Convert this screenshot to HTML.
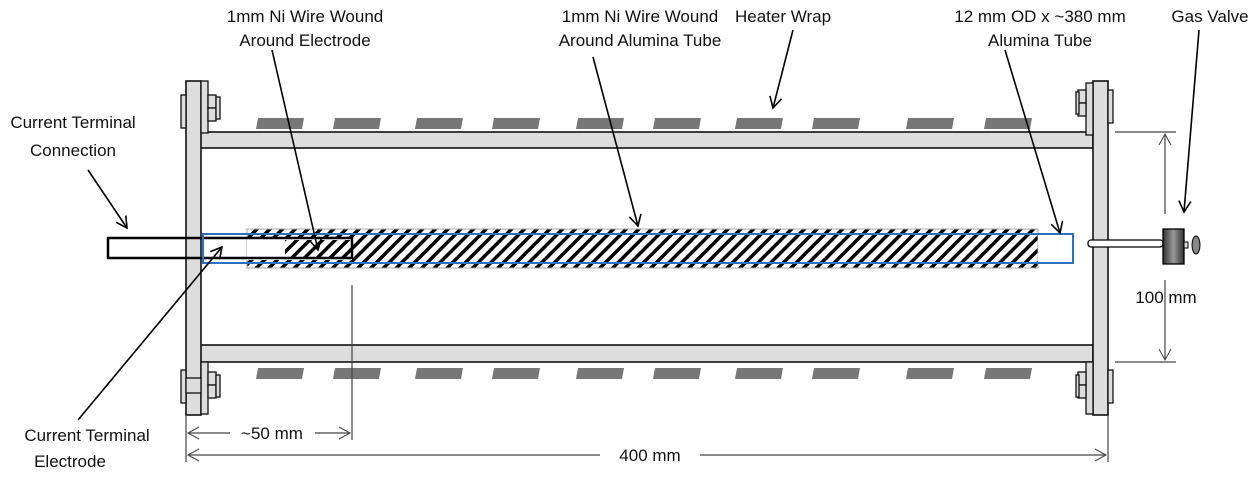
<!DOCTYPE html>
<html><head><meta charset="utf-8"><style>
body{margin:0;background:#fff}
text{font-family:"Liberation Sans",sans-serif;font-size:17px;fill:#111}
</style></head><body>
<svg width="1256" height="475" viewBox="0 0 1256 475" xmlns="http://www.w3.org/2000/svg">
<defs>
<pattern id="h" width="9" height="9" patternUnits="userSpaceOnUse" patternTransform="rotate(45)">
<rect width="9" height="9" fill="#fff"/><rect width="3.5" height="9" fill="#000"/>
</pattern>
<marker id="a" markerWidth="14" markerHeight="14" refX="12" refY="7" orient="auto" markerUnits="userSpaceOnUse">
<path d="M1,1 L12,7 L1,13" fill="none" stroke="#000" stroke-width="1.6"/></marker>
<marker id="g" markerWidth="14" markerHeight="14" refX="12" refY="7" orient="auto" markerUnits="userSpaceOnUse">
<path d="M1,1 L12,7 L1,13" fill="none" stroke="#444" stroke-width="1"/></marker>
<linearGradient id="cg" x1="0" x2="1"><stop offset="0" stop-color="#333"/><stop offset=".5" stop-color="#999"/><stop offset="1" stop-color="#333"/></linearGradient>
</defs>
<g fill="#777">
<g id="d">
<path d="M258,118 h46 l-2,11 h-46z"/><path d="M335,118 h46 l-2,11 h-46z"/><path d="M417,118 h46 l-2,11 h-46z"/><path d="M494,118 h46 l-2,11 h-46z"/><path d="M578,118 h46 l-2,11 h-46z"/><path d="M655,118 h46 l-2,11 h-46z"/><path d="M737,118 h46 l-2,11 h-46z"/><path d="M814,118 h46 l-2,11 h-46z"/><path d="M908,118 h46 l-2,11 h-46z"/><path d="M986,118 h46 l-2,11 h-46z"/>
</g>
<use href="#d" transform="translate(0,250)"/>
</g>
<rect x="200" y="132" width="893" height="16" fill="#ddd" stroke="#111" stroke-width="1.6"/>
<rect x="200" y="345" width="893" height="17" fill="#ddd" stroke="#111" stroke-width="1.6"/>
<rect x="186" y="81" width="15" height="334" fill="#ddd" stroke="#111" stroke-width="1.6"/>
<rect x="1093" y="81" width="15" height="334" fill="#ddd" stroke="#111" stroke-width="1.6"/>
<g fill="#ddd" stroke="#111" stroke-width="1.3">
<rect x="181" y="95" width="5" height="33"/><rect x="201" y="81" width="7" height="52"/><rect x="208" y="95" width="8" height="13"/><rect x="208" y="108" width="8" height="13"/><rect x="216" y="97" width="4" height="22"/>
<rect x="181" y="370" width="5" height="33"/><rect x="201" y="362" width="7" height="52"/><rect x="186" y="378" width="15" height="15"/><rect x="208" y="372" width="8" height="13"/><rect x="208" y="385" width="8" height="13"/><rect x="216" y="375" width="4" height="22"/>
<rect x="1086" y="83" width="7" height="52"/><rect x="1078" y="90" width="8" height="13"/><rect x="1078" y="103" width="8" height="13"/><rect x="1076" y="92" width="3" height="22"/><rect x="1108" y="90" width="5" height="33"/>
<rect x="1086" y="362" width="7" height="52"/><rect x="1078" y="372" width="8" height="13"/><rect x="1078" y="385" width="8" height="13"/><rect x="1076" y="375" width="3" height="22"/><rect x="1108" y="370" width="5" height="33"/>
</g>
<rect x="247" y="229" width="791" height="39" fill="url(#h)" stroke="#aaa" stroke-width="1"/>
<rect x="247" y="237" width="105" height="23" fill="#fff"/>
<rect x="285" y="240" width="67" height="18" fill="url(#h)"/>
<rect x="108" y="238" width="244" height="20" fill="none" stroke="#000" stroke-width="2.5"/>
<rect x="1038" y="234" width="35" height="29" fill="#fff"/>
<rect x="203" y="234" width="870" height="29" fill="none" stroke="#2e6fbf" stroke-width="2"/>
<rect x="1088" y="240" width="75" height="7" rx="3" fill="#fff" stroke="#000" stroke-width="1.3"/>
<rect x="1163" y="229" width="21" height="35" fill="url(#cg)" stroke="#000" stroke-width="1.3"/>
<rect x="1184" y="242" width="4" height="6" fill="#ddd" stroke="#000"/>
<ellipse cx="1196" cy="245" rx="4" ry="9" fill="#888" stroke="#000"/>
<g stroke="#444" stroke-width="1.2" fill="none">
<line x1="1115" y1="132" x2="1176" y2="132"/><line x1="1115" y1="362" x2="1176" y2="362"/>
<line x1="1165" y1="214" x2="1165" y2="134" marker-end="url(#g)"/>
<line x1="1165" y1="280" x2="1165" y2="360" marker-end="url(#g)"/>
<line x1="352" y1="285" x2="352" y2="440"/><line x1="186" y1="415" x2="186" y2="462"/><line x1="1108" y1="415" x2="1108" y2="462"/>
<line x1="230" y1="433" x2="188" y2="433" marker-end="url(#g)"/>
<line x1="315" y1="433" x2="350" y2="433" marker-end="url(#g)"/>
<line x1="600" y1="455" x2="188" y2="455" marker-end="url(#g)"/>
<line x1="700" y1="455" x2="1106" y2="455" marker-end="url(#g)"/>
</g>
<g stroke="#000" stroke-width="1.6" fill="none">
<line x1="272" y1="50" x2="318" y2="250" marker-end="url(#a)"/>
<line x1="593" y1="57" x2="638" y2="226" marker-end="url(#a)"/>
<line x1="793" y1="30" x2="773" y2="108" marker-end="url(#a)"/>
<line x1="1005" y1="50" x2="1060" y2="233" marker-end="url(#a)"/>
<line x1="1199" y1="30" x2="1184" y2="212" marker-end="url(#a)"/>
<line x1="88" y1="170" x2="127" y2="228" marker-end="url(#a)"/>
<line x1="78" y1="420" x2="222" y2="247" marker-end="url(#a)"/>
</g>
<g text-anchor="middle">
<text x="305" y="22">1mm Ni Wire Wound</text><text x="305" y="46">Around Electrode</text>
<text x="640" y="22">1mm Ni Wire Wound</text><text x="640" y="46">Around Alumina Tube</text>
<text x="783" y="22">Heater Wrap</text>
<text x="1040" y="22">12 mm OD x ~380 mm</text><text x="1040" y="46">Alumina Tube</text>
<text x="1210" y="22">Gas Valve</text>
<text x="73" y="128">Current Terminal</text><text x="73" y="156">Connection</text>
<text x="87" y="441">Current Terminal</text><text x="70" y="467">Electrode</text>
<text x="1166" y="303">100 mm</text>
<text x="272" y="439">~50 mm</text>
<text x="650" y="461">400 mm</text>
</g>
</svg>
</body></html>
